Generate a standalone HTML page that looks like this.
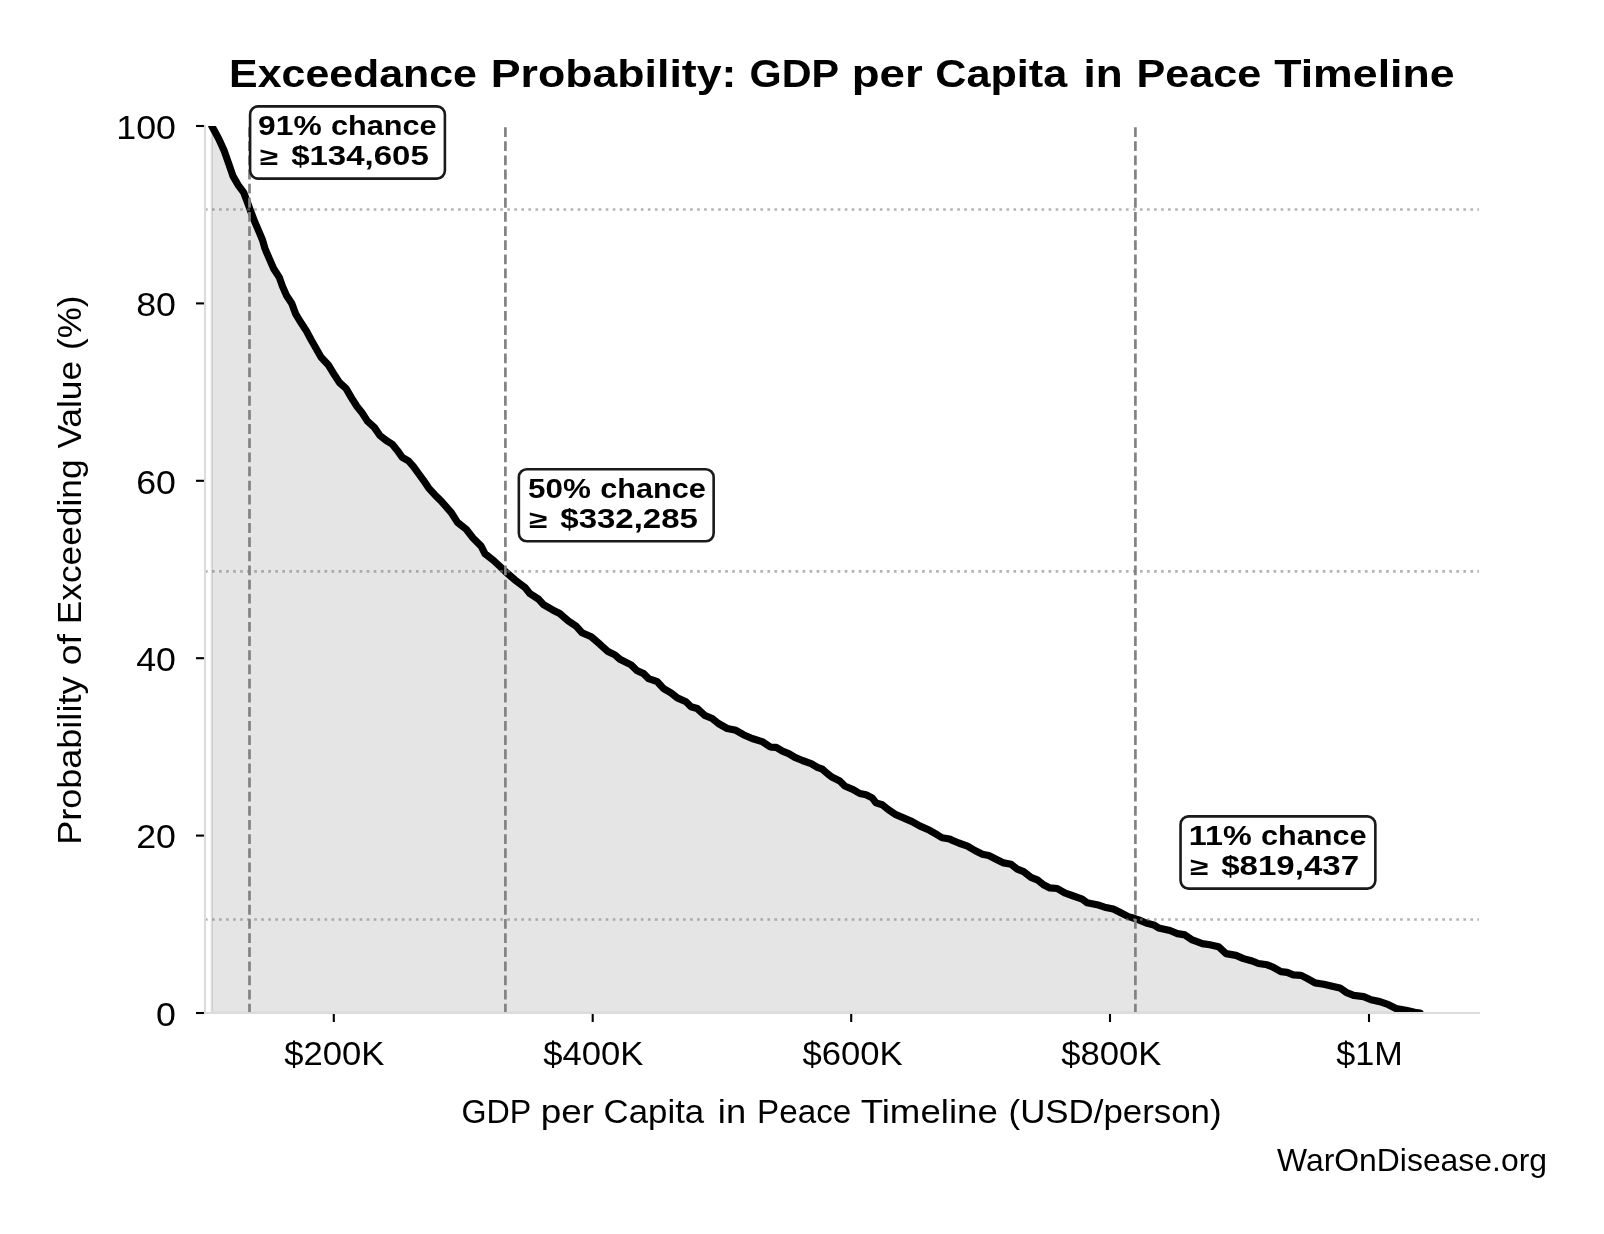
<!DOCTYPE html>
<html lang="en">
<head>
<meta charset="utf-8">
<title>Exceedance Probability: GDP per Capita in Peace Timeline</title>
<style>
html,body{margin:0;padding:0;background:#fff;}
body{width:1604px;height:1234px;overflow:hidden;font-family:"Liberation Sans", sans-serif;}
svg{display:block;will-change:transform;}
text{font-family:"Liberation Sans", sans-serif;fill:#000;white-space:pre;}
.b{font-weight:bold;}
</style>
</head>
<body>
<svg width="1604" height="1234" viewBox="0 0 1604 1234">
<defs><clipPath id="ax"><rect x="205.0" y="126.0" width="1274.1" height="887"/></clipPath></defs>
<rect width="1604" height="1234" fill="#fff"/>
<!-- shaded area, curve and guide lines (clipped to axes) -->
<g clip-path="url(#ax)">
<path d="M211.8 1013.0 L211.8 126 L218.7 138.7 L224.3 151.1 L228.7 163.6 L233 176.1 L238 184.8 L243.6 192.3 L247.4 202.3 L251.1 212.2 L254.9 222.2 L259.2 232.2 L262.5 240 L265 248.7 L269.3 258.7 L273.7 268.7 L279.3 277.4 L282.4 286.1 L286.8 296.1 L291.8 303.6 L295.5 313.6 L299.9 321 L306.1 330.4 L311.1 339.8 L316.1 348.5 L321.1 357.2 L328.6 365.3 L333.5 373.4 L333.7 373.7 L339.4 382.5 L346.2 388.7 L351.2 397.4 L356.8 406.2 L361.8 412.4 L367.4 421.1 L374.3 427.4 L379.9 435.5 L386.1 440.4 L392.3 444.2 L397.3 450.4 L402.3 457.3 L408.6 461 L413.5 466.6 L418.5 473.5 L423.5 480.3 L428.5 487.8 L434.7 494.7 L441 500.9 L451.2 512.5 L457.5 522.4 L466.2 529.3 L473 538 L481.1 546.1 L484.9 553.6 L493.6 560.5 L505.5 571.7 L514.8 579.8 L524.8 587.3 L529.8 593.5 L538.5 599.1 L543.5 604.7 L552.2 609.7 L559.7 613.5 L568.4 620.9 L575.9 625.9 L582.1 632.8 L591.2 636.8 L600 644.3 L607.5 651.2 L614.9 654.9 L619.9 659.3 L631.1 664.9 L636.8 670.5 L643.6 673.6 L648.6 678.6 L657.3 681.7 L663.6 688.6 L671 692.9 L677.3 697.9 L686 701.7 L691 706.7 L697.2 708.5 L704.7 715.4 L712.2 718.5 L718.4 723.5 L727.2 728.5 L735.9 730.3 L743.4 734.7 L752.1 738.5 L762.1 741.6 L769.6 746.6 L771.2 747.1 L776.2 747.4 L782.5 751.1 L788.7 753.6 L794.9 757.4 L802.4 760.5 L811.1 763.6 L817.4 767.3 L822.4 769.2 L827.4 773.6 L832.3 777.3 L839.8 781 L844.8 786 L852.3 789.2 L859.8 793.5 L866 794.8 L872.2 797.9 L876 802.9 L882.2 804.7 L888.5 809.7 L895.9 814.7 L903.4 817.8 L912.1 821.6 L919.6 825.9 L929.6 830.3 L937.1 834.7 L942.1 837.8 L949.6 839 L951.2 839.9 L958.7 843 L967.5 846.1 L974.9 850.5 L982.4 854.2 L988.7 855.5 L996.1 859.2 L1003.6 862.9 L1011.1 864.2 L1017.3 869.2 L1023.6 871.7 L1031 877.3 L1037.3 879.8 L1043.5 884.8 L1049.8 887.9 L1057.2 888.5 L1064.7 892.9 L1073.4 896 L1082.2 899.1 L1087.2 902.8 L1097.1 904.7 L1104.6 907.2 L1113.3 909.1 L1120.8 912.8 L1128.3 916.6 L1131.2 917.4 L1138.7 919.9 L1146.2 923 L1153.7 924.9 L1158.7 928 L1169.9 930.5 L1177.4 933.6 L1184.9 934.9 L1192.3 939.9 L1202.3 943.6 L1209.8 944.8 L1218.5 946.7 L1226 953.6 L1236 955.4 L1243.5 958.6 L1252.2 961 L1258.4 963.5 L1267.2 964.8 L1273.4 967.3 L1280.9 971.6 L1287.1 972.3 L1293.3 974.8 L1300.8 975.4 L1301.2 975.4 L1307.5 978.6 L1315 982.9 L1323.7 984.2 L1331.2 986 L1339.9 987.9 L1346.1 992.3 L1353.6 995.4 L1363.6 996.6 L1371.1 999.8 L1379.8 1001.6 L1388.5 1004.7 L1396 1008.5 L1406 1010.3 L1414.7 1012.2 L1420 1013 L1420 1013.0 Z" fill="#000" fill-opacity="0.1" stroke="#000" stroke-opacity="0.1" stroke-width="2.4" stroke-linejoin="miter"/>
<path d="M211.8 126 L218.7 138.7 L224.3 151.1 L228.7 163.6 L233 176.1 L238 184.8 L243.6 192.3 L247.4 202.3 L251.1 212.2 L254.9 222.2 L259.2 232.2 L262.5 240 L265 248.7 L269.3 258.7 L273.7 268.7 L279.3 277.4 L282.4 286.1 L286.8 296.1 L291.8 303.6 L295.5 313.6 L299.9 321 L306.1 330.4 L311.1 339.8 L316.1 348.5 L321.1 357.2 L328.6 365.3 L333.5 373.4 L333.7 373.7 L339.4 382.5 L346.2 388.7 L351.2 397.4 L356.8 406.2 L361.8 412.4 L367.4 421.1 L374.3 427.4 L379.9 435.5 L386.1 440.4 L392.3 444.2 L397.3 450.4 L402.3 457.3 L408.6 461 L413.5 466.6 L418.5 473.5 L423.5 480.3 L428.5 487.8 L434.7 494.7 L441 500.9 L451.2 512.5 L457.5 522.4 L466.2 529.3 L473 538 L481.1 546.1 L484.9 553.6 L493.6 560.5 L505.5 571.7 L514.8 579.8 L524.8 587.3 L529.8 593.5 L538.5 599.1 L543.5 604.7 L552.2 609.7 L559.7 613.5 L568.4 620.9 L575.9 625.9 L582.1 632.8 L591.2 636.8 L600 644.3 L607.5 651.2 L614.9 654.9 L619.9 659.3 L631.1 664.9 L636.8 670.5 L643.6 673.6 L648.6 678.6 L657.3 681.7 L663.6 688.6 L671 692.9 L677.3 697.9 L686 701.7 L691 706.7 L697.2 708.5 L704.7 715.4 L712.2 718.5 L718.4 723.5 L727.2 728.5 L735.9 730.3 L743.4 734.7 L752.1 738.5 L762.1 741.6 L769.6 746.6 L771.2 747.1 L776.2 747.4 L782.5 751.1 L788.7 753.6 L794.9 757.4 L802.4 760.5 L811.1 763.6 L817.4 767.3 L822.4 769.2 L827.4 773.6 L832.3 777.3 L839.8 781 L844.8 786 L852.3 789.2 L859.8 793.5 L866 794.8 L872.2 797.9 L876 802.9 L882.2 804.7 L888.5 809.7 L895.9 814.7 L903.4 817.8 L912.1 821.6 L919.6 825.9 L929.6 830.3 L937.1 834.7 L942.1 837.8 L949.6 839 L951.2 839.9 L958.7 843 L967.5 846.1 L974.9 850.5 L982.4 854.2 L988.7 855.5 L996.1 859.2 L1003.6 862.9 L1011.1 864.2 L1017.3 869.2 L1023.6 871.7 L1031 877.3 L1037.3 879.8 L1043.5 884.8 L1049.8 887.9 L1057.2 888.5 L1064.7 892.9 L1073.4 896 L1082.2 899.1 L1087.2 902.8 L1097.1 904.7 L1104.6 907.2 L1113.3 909.1 L1120.8 912.8 L1128.3 916.6 L1131.2 917.4 L1138.7 919.9 L1146.2 923 L1153.7 924.9 L1158.7 928 L1169.9 930.5 L1177.4 933.6 L1184.9 934.9 L1192.3 939.9 L1202.3 943.6 L1209.8 944.8 L1218.5 946.7 L1226 953.6 L1236 955.4 L1243.5 958.6 L1252.2 961 L1258.4 963.5 L1267.2 964.8 L1273.4 967.3 L1280.9 971.6 L1287.1 972.3 L1293.3 974.8 L1300.8 975.4 L1301.2 975.4 L1307.5 978.6 L1315 982.9 L1323.7 984.2 L1331.2 986 L1339.9 987.9 L1346.1 992.3 L1353.6 995.4 L1363.6 996.6 L1371.1 999.8 L1379.8 1001.6 L1388.5 1004.7 L1396 1008.5 L1406 1010.3 L1414.7 1012.2 L1420 1013" fill="none" stroke="#000" stroke-width="7.2" stroke-linejoin="round" stroke-linecap="round"/>
<line x1="205.0" y1="209.5" x2="1479.1" y2="209.5" stroke="#808080" stroke-opacity="0.6" stroke-width="2.67" stroke-dasharray="2.65 4.38"/>
<line x1="205.0" y1="571.4" x2="1479.1" y2="571.4" stroke="#808080" stroke-opacity="0.6" stroke-width="2.67" stroke-dasharray="2.65 4.38"/>
<line x1="205.0" y1="919.5" x2="1479.1" y2="919.5" stroke="#808080" stroke-opacity="0.6" stroke-width="2.67" stroke-dasharray="2.65 4.38"/>
<line x1="249.5" y1="1013.65" x2="249.5" y2="126.0" stroke="#828282" stroke-width="2.7" stroke-dasharray="9.8 4.34"/>
<line x1="505.4" y1="1013.65" x2="505.4" y2="126.0" stroke="#828282" stroke-width="2.7" stroke-dasharray="9.8 4.34"/>
<line x1="1135.4" y1="1013.65" x2="1135.4" y2="126.0" stroke="#828282" stroke-width="2.7" stroke-dasharray="9.8 4.34"/>
</g>
<!-- ticks -->
<line x1="333.8" y1="1013.0" x2="333.8" y2="1022.0" stroke="#000" stroke-width="2.1"/>
<line x1="592.7" y1="1013.0" x2="592.7" y2="1022.0" stroke="#000" stroke-width="2.1"/>
<line x1="851.2" y1="1013.0" x2="851.2" y2="1022.0" stroke="#000" stroke-width="2.1"/>
<line x1="1110.0" y1="1013.0" x2="1110.0" y2="1022.0" stroke="#000" stroke-width="2.1"/>
<line x1="1369.0" y1="1013.0" x2="1369.0" y2="1022.0" stroke="#000" stroke-width="2.1"/>
<line x1="196.0" y1="1013" x2="205.0" y2="1013" stroke="#000" stroke-width="2.1"/>
<line x1="196.0" y1="835.6" x2="205.0" y2="835.6" stroke="#000" stroke-width="2.1"/>
<line x1="196.0" y1="658.2" x2="205.0" y2="658.2" stroke="#000" stroke-width="2.1"/>
<line x1="196.0" y1="480.8" x2="205.0" y2="480.8" stroke="#000" stroke-width="2.1"/>
<line x1="196.0" y1="303.4" x2="205.0" y2="303.4" stroke="#000" stroke-width="2.1"/>
<line x1="196.0" y1="126" x2="205.0" y2="126" stroke="#000" stroke-width="2.1"/>
<!-- spines -->
<line x1="205.0" y1="125.0" x2="205.0" y2="1014.0" stroke="#dcdcdc" stroke-width="2.1"/>
<line x1="204.0" y1="1013.0" x2="1480" y2="1013.0" stroke="#dcdcdc" stroke-width="2.1"/>
<!-- title and axis labels -->
<text y="86.9" font-size="39.6" class="b"><tspan x="229.13" textLength="247.83" lengthAdjust="spacingAndGlyphs">Exceedance</tspan> <tspan x="490.77" textLength="245.67" lengthAdjust="spacingAndGlyphs">Probability:</tspan> <tspan x="749.53" textLength="88.84" lengthAdjust="spacingAndGlyphs">GDP</tspan> <tspan x="851.65" textLength="71.03" lengthAdjust="spacingAndGlyphs">per</tspan> <tspan x="935.21" textLength="132.09" lengthAdjust="spacingAndGlyphs">Capita</tspan> <tspan x="1083.6" textLength="39.19" lengthAdjust="spacingAndGlyphs">in</tspan> <tspan x="1136.55" textLength="124.66" lengthAdjust="spacingAndGlyphs">Peace</tspan> <tspan x="1274.25" textLength="180.33" lengthAdjust="spacingAndGlyphs">Timeline</tspan></text>
<text y="1122.9" font-size="34"><tspan x="461.39" textLength="69.22" lengthAdjust="spacingAndGlyphs">GDP</tspan> <tspan x="540.73" textLength="53.31" lengthAdjust="spacingAndGlyphs">per</tspan> <tspan x="603.64" textLength="100.5" lengthAdjust="spacingAndGlyphs">Capita</tspan> <tspan x="717.83" textLength="28.25" lengthAdjust="spacingAndGlyphs">in</tspan> <tspan x="757.05" textLength="94.19" lengthAdjust="spacingAndGlyphs">Peace</tspan> <tspan x="860.73" textLength="137.06" lengthAdjust="spacingAndGlyphs">Timeline</tspan> <tspan x="1008.64" textLength="212.9" lengthAdjust="spacingAndGlyphs">(USD/person)</tspan></text>
<text y="0" font-size="34" transform="translate(81 845.04) rotate(-90)"><tspan x="0.19" textLength="168.28" lengthAdjust="spacingAndGlyphs">Probability</tspan> <tspan x="179.73" textLength="31.24" lengthAdjust="spacingAndGlyphs">of</tspan> <tspan x="220.86" textLength="164.68" lengthAdjust="spacingAndGlyphs">Exceeding</tspan> <tspan x="396.45" textLength="87.76" lengthAdjust="spacingAndGlyphs">Value</tspan> <tspan x="495.12" textLength="54.27" lengthAdjust="spacingAndGlyphs">(%)</tspan></text>
<!-- tick labels -->
<text x="334.4" y="1065.4" font-size="34" text-anchor="middle" textLength="100.2" lengthAdjust="spacingAndGlyphs">$200K</text>
<text x="593.3" y="1065.4" font-size="34" text-anchor="middle" textLength="100.2" lengthAdjust="spacingAndGlyphs">$400K</text>
<text x="852.6" y="1065.4" font-size="34" text-anchor="middle" textLength="100.2" lengthAdjust="spacingAndGlyphs">$600K</text>
<text x="1111.4" y="1065.4" font-size="34" text-anchor="middle" textLength="100.2" lengthAdjust="spacingAndGlyphs">$800K</text>
<text x="1369.6" y="1065.4" font-size="34" text-anchor="middle" textLength="66.5" lengthAdjust="spacingAndGlyphs">$1M</text>
<text x="176" y="1025.7" font-size="34" text-anchor="end" textLength="19.9" lengthAdjust="spacingAndGlyphs">0</text>
<text x="176" y="848.3" font-size="34" text-anchor="end" textLength="39.8" lengthAdjust="spacingAndGlyphs">20</text>
<text x="176" y="670.9" font-size="34" text-anchor="end" textLength="39.8" lengthAdjust="spacingAndGlyphs">40</text>
<text x="176" y="493.5" font-size="34" text-anchor="end" textLength="39.8" lengthAdjust="spacingAndGlyphs">60</text>
<text x="176" y="316.1" font-size="34" text-anchor="end" textLength="39.8" lengthAdjust="spacingAndGlyphs">80</text>
<text x="176" y="138.7" font-size="34" text-anchor="end" textLength="59.7" lengthAdjust="spacingAndGlyphs">100</text>
<text x="1277" y="1170.8" font-size="31.1" textLength="270" lengthAdjust="spacingAndGlyphs" fill="#3a3a3a">WarOnDisease.org</text>
<!-- annotations -->
<rect x="250.1" y="106.4" width="194.8" height="72.2" rx="8" ry="8" fill="#fff" stroke="#1a1a1a" stroke-width="2.6"/>
<text y="134.9" font-size="28.3" class="b"><tspan x="258.13" textLength="63.62" lengthAdjust="spacingAndGlyphs">91%</tspan> <tspan x="331" textLength="105.6" lengthAdjust="spacingAndGlyphs">chance</tspan></text>
<text y="164.9" font-size="28.3" class="b"><tspan x="259.88" textLength="18.31" lengthAdjust="spacingAndGlyphs" font-size="24.6">≥</tspan> <tspan x="291.17" textLength="137.59" lengthAdjust="spacingAndGlyphs">$134,605</tspan></text>
<rect x="518.85" y="469.2" width="194.8" height="72.1" rx="8" ry="8" fill="#fff" stroke="#1a1a1a" stroke-width="2.6"/>
<text y="497.9" font-size="28.3" class="b"><tspan x="528.1" textLength="62.79" lengthAdjust="spacingAndGlyphs">50%</tspan> <tspan x="600.15" textLength="105.6" lengthAdjust="spacingAndGlyphs">chance</tspan></text>
<text y="528" font-size="28.3" class="b"><tspan x="529.03" textLength="18.31" lengthAdjust="spacingAndGlyphs" font-size="24.6">≥</tspan> <tspan x="560.32" textLength="137.59" lengthAdjust="spacingAndGlyphs">$332,285</tspan></text>
<rect x="1180.55" y="816.4" width="194.8" height="72.2" rx="8" ry="8" fill="#fff" stroke="#1a1a1a" stroke-width="2.6"/>
<text y="844.9" font-size="28.3" class="b"><tspan x="1188.88" textLength="62.94" lengthAdjust="spacingAndGlyphs">11%</tspan> <tspan x="1261.05" textLength="105.6" lengthAdjust="spacingAndGlyphs">chance</tspan></text>
<text y="874.9" font-size="28.3" class="b"><tspan x="1189.93" textLength="18.31" lengthAdjust="spacingAndGlyphs" font-size="24.6">≥</tspan> <tspan x="1221.22" textLength="137.87" lengthAdjust="spacingAndGlyphs">$819,437</tspan></text>
</svg>
</body>
</html>
